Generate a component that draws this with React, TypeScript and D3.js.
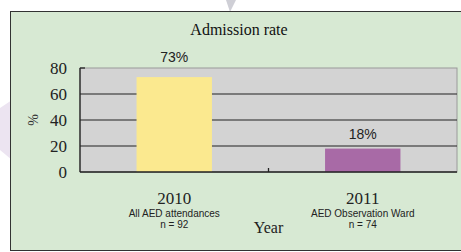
import React from "react";
import * as d3 from "d3";

const categories = ["2010", "2011"];
const subLabels = ["All AED attendances", "AED Observation Ward"];
const nLabels = ["n = 92", "n = 74"];
const values = [73, 18];
const valueLabels = ["73%", "18%"];
const barColors = ["#fbe98f", "#a86aa6"];
const yTicks = [0, 20, 40, 60, 80];

export default function App() {
  const W = 461, H = 252;
  const left = 80, right = 457, top = 68, bottom = 172;
  const x = d3.scaleBand().domain(categories).range([left, right]).paddingInner(0).paddingOuter(0);
  const y = d3.scaleLinear().domain([0, 80]).range([bottom, top]);
  const bw = x.bandwidth() * 0.4;
  const serif = "'Liberation Serif', 'DejaVu Serif', serif";
  const sans = "'Liberation Sans', Arial, sans-serif";
  return (
    <svg width={W} height={H} style={{ position: "absolute", left: 0, top: 0 }}>
      <rect x={0} y={0} width={W} height={H} fill="#ffffff" />
      <path d="M0,108 L12,100 L12,160 L0,150 Z" fill="#ece4f1" />
      <path d="M226,0 L236,0 L230,12 Z" fill="#cfcfd6" />
      <rect x={10.5} y={11.5} width={W} height={239} fill="#d7e9d3" stroke="#333" strokeWidth={1} />
      <text x={239} y={35} textAnchor="middle" fontFamily={serif} fontSize={16} fill="#111">Admission rate</text>
      <rect x={left} y={top} width={right - left} height={bottom - top} fill="#d3d3d3" stroke="#9a9a9a" strokeWidth={1} />
      {yTicks.filter(t => t > 0 && t < 80).map(t => (
        <line key={t} x1={left} x2={right} y1={y(t)} y2={y(t)} stroke="#222" strokeWidth={1.2} />
      ))}
      {categories.map((c, i) => (
        <rect key={c} x={x(c)! + (x.bandwidth() - bw) / 2} y={y(values[i])} width={bw} height={bottom - y(values[i])} fill={barColors[i]} />
      ))}
      <line x1={left} x2={left} y1={top} y2={bottom} stroke="#222" strokeWidth={1.3} />
      <line x1={left} x2={left + 5} y1={top} y2={top} stroke="#222" strokeWidth={1.3} />
      <line x1={left} x2={right} y1={bottom} y2={bottom} stroke="#222" strokeWidth={1.3} />
      <line x1={x(categories[1])!} x2={x(categories[1])!} y1={bottom} y2={bottom - 4} stroke="#222" strokeWidth={1.3} />
      {yTicks.map(t => (
        <text key={t} x={67} y={y(t) + 6} textAnchor="end" fontFamily={serif} fontSize={17} fill="#222">{t}</text>
      ))}
      <text transform={`translate(38,${y(40)}) rotate(-90)`} textAnchor="middle" fontFamily={serif} fontSize={14} fill="#333">%</text>
      {categories.map((c, i) => {
        const cx = x(c)! + x.bandwidth() / 2;
        return (
          <g key={c}>
            <text x={cx} y={i === 0 ? 62 : 139} textAnchor="middle" fontFamily={sans} fontSize={14} fill="#222">{valueLabels[i]}</text>
            <text x={cx} y={204} textAnchor="middle" fontFamily={serif} fontSize={17} fill="#222">{c}</text>
            <text x={cx} y={217} textAnchor="middle" fontFamily={sans} fontSize={10} fill="#222">{subLabels[i]}</text>
            <text x={cx} y={228} textAnchor="middle" fontFamily={sans} fontSize={10} fill="#222">{nLabels[i]}</text>
          </g>
        );
      })}
      <text x={x(categories[1])!} y={233} textAnchor="middle" fontFamily={serif} fontSize={16} fill="#222">Year</text>
    </svg>
  );
}
